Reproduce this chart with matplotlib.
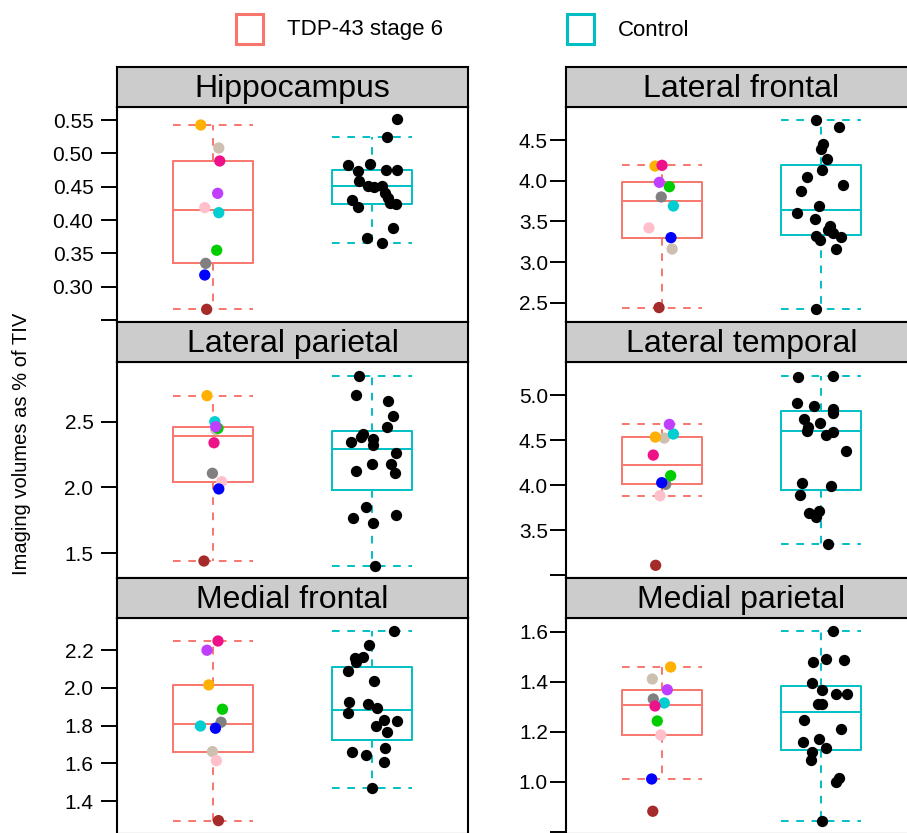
import numpy as np
import matplotlib
matplotlib.use("Agg")
import matplotlib.pyplot as plt
from matplotlib.patches import Rectangle

plt.rcParams["font.family"] = ["Liberation Sans", "DejaVu Sans"]
plt.rcParams["lines.scale_dashes"] = False

# TDP-43 stage 6 subjects, same colour for a subject in every panel
subjects = ["tan", "orange", "gray", "pink", "cyan", "green", "purple", "deeppink", "blue", "brown"]
subject_colors = ["#CDC0B0", "#FFB000", "#808080", "#FFC0CB", "#00CED1", "#00CD00",
                  "#BF3EFF", "#EE1289", "#0000FF", "#A52A2A"]

regions = ["Hippocampus", "Lateral frontal", "Lateral parietal",
           "Lateral temporal", "Medial frontal", "Medial parietal"]
groups = ["TDP-43 stage 6", "Control"]

# values in subject order (tan, orange, gray, pink, cyan, green, purple, deeppink, blue, brown)
hippo_tdp = [0.508, 0.5425, 0.335, 0.4185, 0.411, 0.3546, 0.440, 0.4885, 0.3175, 0.266]
hippo_tdp_jit = [0.038, -0.075, -0.044, -0.050, 0.038, 0.025, 0.031, 0.044, -0.050, -0.038]
latfr_tdp = [3.16, 4.18, 3.80, 3.42, 3.689, 3.926, 3.98, 4.189, 3.30, 2.44]
latfr_tdp_jit = [0.065, -0.042, -0.003, -0.080, 0.073, 0.048, -0.015, 0.002, 0.058, -0.017]
latpa_tdp = [2.44, 2.698, 2.108, 2.044, 2.50, 2.45, 2.462, 2.34, 1.989, 1.441]
latpa_tdp_jit = [0.019, -0.036, -0.002, 0.056, 0.013, 0.033, 0.019, 0.008, 0.038, -0.055]
latte_tdp = [4.522, 4.533, 4.008, 3.881, 4.567, 4.104, 4.674, 4.333, 4.026, 3.108]
latte_tdp_jit = [0.016, -0.040, 0.025, -0.011, 0.073, 0.056, 0.048, -0.053, 0.0, -0.038]
medfr_tdp = [1.662, 2.016, 1.818, 1.614, 1.798, 1.887, 2.20, 2.249, 1.786, 1.296]
medfr_tdp_jit = [-0.002, -0.025, 0.052, 0.023, -0.077, 0.061, -0.036, 0.033, 0.017, 0.036]
medpa_tdp = [1.411, 1.459, 1.331, 1.187, 1.315, 1.243, 1.368, 1.303, 1.011, 0.882]
medpa_tdp_jit = [-0.059, 0.056, -0.053, -0.006, 0.016, -0.028, 0.035, -0.042, -0.063, -0.056]

hippo_ctrl = [0.551, 0.524, 0.482, 0.4845, 0.4735, 0.475, 0.475, 0.459, 0.451, 0.451,
              0.441, 0.430, 0.420, 0.4325, 0.425, 0.424, 0.3875, 0.3735, 0.365, 0.450]
hippo_ctrl_jit = [0.153, 0.094, -0.154, -0.014, -0.092, 0.086, 0.153, -0.083, -0.025, 0.059,
                  0.080, -0.129, -0.088, 0.100, 0.111, 0.147, 0.128, -0.035, 0.063, 0.011]
latfr_ctrl = [4.746, 4.664, 4.447, 4.393, 4.263, 4.131, 4.049, 3.943, 3.873, 3.692,
              3.599, 3.533, 3.443, 3.394, 3.324, 3.311, 3.271, 3.353, 3.156, 2.423]
latfr_ctrl_jit = [-0.033, 0.113, 0.009, -0.004, 0.034, 0.003, -0.088, 0.134, -0.127, -0.013,
                  -0.150, -0.038, 0.055, 0.044, -0.033, 0.124, -0.008, 0.075, 0.090, -0.033]
latpa_ctrl = [2.85, 2.70, 2.655, 2.541, 2.457, 2.407, 2.381, 2.343, 2.371, 2.325,
              2.26, 2.128, 2.179, 2.179, 2.108, 1.854, 1.768, 1.791, 1.73, 1.406]
latpa_ctrl_jit = [-0.083, -0.102, 0.100, 0.128, 0.094, -0.056, -0.073, -0.134, 0.006, 0.003,
                  0.147, -0.104, -0.004, 0.115, 0.142, -0.038, -0.119, 0.149, 0.006, 0.017]
latte_ctrl = [5.204, 5.215, 4.907, 4.878, 4.844, 4.796, 4.73, 4.685, 4.641, 4.604,
              4.592, 4.556, 4.381, 4.026, 3.989, 3.893, 3.693, 3.711, 3.648, 3.341]
latte_ctrl_jit = [-0.144, 0.075, -0.150, -0.046, 0.071, 0.075, -0.108, -0.008, -0.085, -0.092,
                  0.071, 0.028, 0.153, -0.119, 0.061, -0.134, -0.075, -0.013, -0.033, 0.044]
medfr_ctrl = [2.302, 2.228, 2.158, 2.163, 2.136, 2.089, 2.037, 1.927, 1.913, 1.895,
              1.866, 1.83, 1.826, 1.80, 1.765, 1.68, 1.659, 1.644, 1.606, 1.471]
medfr_ctrl_jit = [0.138, -0.021, -0.108, -0.056, -0.104, -0.150, 0.011, -0.144, -0.029, 0.028,
                  -0.150, 0.075, 0.157, 0.023, 0.090, 0.080, -0.125, -0.041, 0.075, -0.004]
medpa_ctrl = [1.603, 1.478, 1.491, 1.488, 1.395, 1.368, 1.352, 1.35, 1.312, 1.31,
              1.246, 1.211, 1.16, 1.171, 1.136, 1.118, 1.087, 1.00, 1.014, 0.843]
medpa_ctrl_jit = [0.075, -0.050, 0.029, 0.142, -0.060, 0.006, 0.090, 0.159, -0.019, 0.003,
                  -0.107, 0.122, -0.117, -0.014, 0.029, -0.060, -0.066, 0.092, 0.113, 0.003]

# y axis settings per panel: limits, ticks, label format, ticks left without label
ylims = [(0.247, 0.5695), (2.263, 4.906), (1.312, 2.954),
         (2.967, 5.367), (1.225, 2.371), (0.791, 1.655)]
yticks = [np.arange(0.25, 0.551, 0.05), np.arange(2.5, 4.51, 0.5), np.arange(1.5, 2.51, 0.5),
          np.arange(3.0, 5.01, 0.5), np.arange(1.4, 2.21, 0.2), np.arange(0.8, 1.61, 0.2)]
yfmt = ["{:.2f}", "{:.1f}", "{:.1f}", "{:.1f}", "{:.1f}", "{:.1f}"]
nolabel_first = [True, False, False, True, False, True]

tdp_vals = [hippo_tdp, latfr_tdp, latpa_tdp, latte_tdp, medfr_tdp, medpa_tdp]
tdp_jits = [hippo_tdp_jit, latfr_tdp_jit, latpa_tdp_jit, latte_tdp_jit, medfr_tdp_jit, medpa_tdp_jit]
ctrl_vals = [hippo_ctrl, latfr_ctrl, latpa_ctrl, latte_ctrl, medfr_ctrl, medpa_ctrl]
ctrl_jits = [hippo_ctrl_jit, latfr_ctrl_jit, latpa_ctrl_jit, latte_ctrl_jit, medfr_ctrl_jit, medpa_ctrl_jit]

box_colors = ["#F8766D", "#00BFC4"]


def box_stats(v):
    # Tukey hinges and 1.5 IQR whiskers like R boxplot.stats
    x = np.sort(np.asarray(v))
    n = len(x)
    n4 = np.floor((n + 3) / 2) / 2
    d = np.array([1, n4, (n + 1) / 2, n + 1 - n4, n]) - 1
    fn = 0.5 * (x[np.floor(d).astype(int)] + x[np.ceil(d).astype(int)])
    q1, med, q3 = fn[1], fn[2], fn[3]
    iqr = q3 - q1
    return dict(med=med, q1=q1, q3=q3,
                whislo=x[x >= q1 - 1.5 * iqr].min(),
                whishi=x[x <= q3 + 1.5 * iqr].max(),
                fliers=[])


W, H = 907, 833
fig = plt.figure(figsize=(W / 100, H / 100), dpi=100)


def px_axes(x0, y0, x1, y1):
    return fig.add_axes([x0 / W, 1 - y1 / H, (x1 - x0) / W, (y1 - y0) / H])


cols = [(117, 468), (566, 917)]
col_pad = [5.5, 1.5]
rows = [(67, 107, 322), (322, 362, 578), (578, 618, 834)]
dash = (0, (5.5, 5.5))

for i, region in enumerate(regions):
    cx0, cx1 = cols[i % 2]
    st, pt, pb = rows[i // 2]

    ax = px_axes(cx0, pt, cx1, pb)
    ax.set_xlim(0.4, 2.6)
    ax.set_ylim(*ylims[i])
    ax.set_xticks([])
    ax.set_yticks(yticks[i])
    labels = [yfmt[i].format(t) for t in yticks[i]]
    if nolabel_first[i]:
        labels[0] = ""
    ax.set_yticklabels(labels)
    ax.tick_params(axis="y", length=11.5, width=1.4, pad=col_pad[i % 2], labelsize=15)
    for s in ax.spines.values():
        s.set_linewidth(1.5)

    for g, (vals, c) in enumerate(zip([tdp_vals[i], ctrl_vals[i]], box_colors)):
        ax.bxp([box_stats(vals)], positions=[g + 1], widths=0.5, capwidths=0.5,
               showfliers=False, manage_ticks=False,
               boxprops=dict(color=c, lw=1.4),
               medianprops=dict(color=c, lw=1.4),
               whiskerprops=dict(color=c, lw=1.4, linestyle=dash),
               capprops=dict(color=c, lw=1.4, linestyle=dash))

    ax.scatter(1 + np.array(tdp_jits[i]), tdp_vals[i], s=66, c=subject_colors,
               linewidths=0, zorder=3)
    ax.scatter(2 + np.array(ctrl_jits[i]), ctrl_vals[i], s=66, c="black",
               linewidths=0, zorder=3)

    sax = px_axes(cx0, st, cx1, pt)
    sax.set_facecolor("#CCCCCC")
    sax.set_xticks([])
    sax.set_yticks([])
    for s in sax.spines.values():
        s.set_linewidth(1.5)
    sax.text(0.5, 0.45, region, transform=sax.transAxes, ha="center", va="center",
             fontsize=23)

# legend on top
leg_x = [236, 567]
for g, c in enumerate(box_colors):
    fig.add_artist(Rectangle((leg_x[g] / W, 1 - 44 / H), 27 / W, 30 / H,
                             transform=fig.transFigure, fill=False, ec=c, lw=2.2))
    fig.text((leg_x[g] + 51) / W, 1 - 30 / H, groups[g], ha="left", va="center",
             fontsize=16)

fig.text(22 / W, 1 - 444 / H, "Imaging volumes as % of TIV", rotation=90,
         ha="center", va="center", fontsize=14.5)

fig.savefig("out.png", dpi=100)
